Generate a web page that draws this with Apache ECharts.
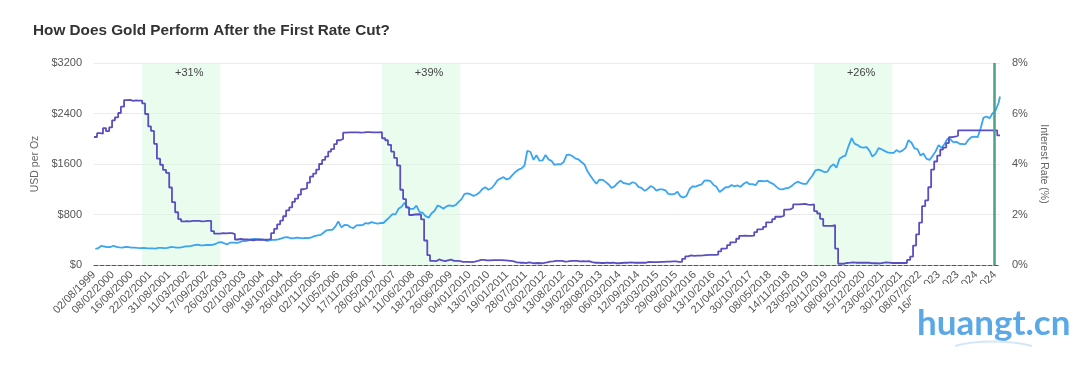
<!DOCTYPE html>
<html>
<head>
<meta charset="utf-8">
<script src="https://cdn.jsdelivr.net/npm/echarts@6/dist/echarts.min.js"></script>
<style>
html,body{margin:0;padding:0;background:#fff;}
#chart{width:1080px;height:370px;}
</style>
</head>
<body>
<div id="chart"></div>
<script>
// ---------- DATA ----------
const titleText = 'How Does Gold Perform After the First Rate Cut?';
const seriesStart = '1999-08-02';     // first business day of the series
const seriesEnd = '2024-09-30';       // last business day of the series
const labelEvery = 136;               // business days between x labels
const tickLabels = ['02/08/1999','08/02/2000','16/08/2000','22/02/2001','31/08/2001','11/03/2002','17/09/2002','26/03/2003','02/10/2003','09/04/2004','18/10/2004','26/04/2005','02/11/2005','11/05/2006','17/11/2006','28/05/2007','04/12/2007','11/06/2008','18/12/2008','26/06/2009','04/01/2010','13/07/2010','19/01/2011','28/07/2011','03/02/2012','13/08/2012','19/02/2013','28/08/2013','06/03/2014','12/09/2014','23/03/2015','29/09/2015','06/04/2016','13/10/2016','21/04/2017','30/10/2017','08/05/2018','14/11/2018','23/05/2019','29/11/2019','08/06/2020','15/12/2020','23/06/2021','30/12/2021','08/07/2022','16/01/2023','25/07/2023','31/01/2024','08/08/2024'];

// Gold, USD per oz, one value per month from Aug 1999 (mid-month level)
const goldMonthly = [
  255,268,305,293,283,
  285,305,286,280,275,286,282,275,274,270,266,272,
  266,262,263,260,272,270,267,272,285,283,276,276,
  282,296,294,303,315,321,313,310,319,317,319,333,
  357,362,341,328,356,356,351,360,379,379,390,408,
  414,405,407,403,384,392,398,400,405,421,439,442,
  424,423,434,429,422,431,425,438,456,470,477,510,
  550,555,557,611,690,596,634,633,598,586,628,630,
  631,665,655,679,667,656,665,665,713,755,806,803,
  890,922,985,910,889,890,940,839,830,775,750,816,
  859,943,924,890,929,946,934,949,997,1043,1127,1135,
  1118,1095,1113,1149,1205,1233,1193,1216,1271,1342,1370,1391,
  1356,1373,1424,1474,1510,1529,1573,1810,1790,1665,1739,1652,
  1656,1742,1674,1650,1586,1597,1594,1626,1745,1747,1722,1685,
  1672,1628,1593,1488,1414,1343,1286,1352,1349,1317,1276,1222,
  1244,1300,1336,1299,1289,1279,1311,1295,1237,1223,1175,1201,
  1251,1227,1179,1199,1199,1182,1128,1118,1125,1159,1086,1068,
  1098,1200,1245,1242,1261,1276,1337,1340,1327,1267,1238,1157,
  1192,1234,1231,1267,1246,1260,1237,1283,1314,1280,1282,1265,
  1331,1331,1325,1335,1304,1282,1238,1202,1198,1215,1221,1250,
  1292,1320,1301,1286,1284,1359,1413,1500,1511,1495,1470,1479,
  1561,1597,1540,1683,1716,1732,1880,2010,1922,1900,1866,1858,
  1867,1808,1718,1760,1850,1835,1808,1785,1775,1777,1821,1790,
  1816,1856,1975,1937,1849,1837,1733,1765,1681,1665,1725,1798,
  1898,1855,1913,2000,1991,1943,1951,1919,1917,1916,1986,2027,
  2034,2024,2159,2331,2352,2326,2398,2450,2570
];
const goldLast = 2670;

// Effective federal funds rate, %, one value per month from Aug 1999
const rateMonthly = [
  5.07,5.22,5.20,5.42,5.30,
  5.45,5.73,5.85,6.02,6.27,6.53,6.54,6.50,6.52,6.51,6.51,6.40,
  5.98,5.49,5.31,4.80,4.21,3.97,3.77,3.65,3.07,2.49,2.09,1.82,
  1.73,1.74,1.73,1.75,1.75,1.75,1.73,1.74,1.75,1.75,1.34,1.24,
  1.24,1.26,1.25,1.26,1.26,1.22,1.01,1.03,1.01,1.01,1.00,0.98,
  1.00,1.01,1.00,1.00,1.00,1.03,1.26,1.43,1.61,1.76,1.93,2.16,
  2.28,2.50,2.63,2.79,3.00,3.04,3.26,3.50,3.62,3.78,4.00,4.16,
  4.29,4.49,4.59,4.79,4.94,4.99,5.24,5.25,5.25,5.25,5.25,5.24,
  5.25,5.26,5.26,5.25,5.25,5.25,5.26,5.02,4.94,4.76,4.49,4.24,
  3.94,2.98,2.61,2.28,1.98,2.00,2.01,2.00,1.81,0.97,0.39,0.16,
  0.15,0.22,0.18,0.15,0.18,0.21,0.16,0.16,0.15,0.12,0.12,0.12,
  0.11,0.13,0.16,0.20,0.20,0.18,0.18,0.19,0.19,0.19,0.19,0.18,
  0.17,0.16,0.14,0.10,0.09,0.09,0.07,0.10,0.08,0.07,0.08,0.07,
  0.08,0.10,0.13,0.14,0.16,0.16,0.16,0.13,0.14,0.16,0.16,0.16,
  0.14,0.15,0.14,0.15,0.11,0.09,0.09,0.08,0.08,0.09,0.08,0.09,
  0.07,0.07,0.08,0.09,0.09,0.10,0.09,0.09,0.09,0.09,0.09,0.12,
  0.11,0.11,0.11,0.12,0.12,0.13,0.13,0.14,0.14,0.12,0.12,0.24,
  0.34,0.38,0.36,0.37,0.37,0.38,0.39,0.40,0.40,0.40,0.41,0.54,
  0.65,0.66,0.79,0.90,0.91,1.04,1.15,1.16,1.15,1.15,1.16,1.30,
  1.41,1.42,1.51,1.69,1.70,1.82,1.91,1.91,1.95,2.19,2.20,2.27,
  2.40,2.40,2.41,2.42,2.39,2.38,2.40,2.13,2.04,1.83,1.55,1.55,
  1.55,1.58,0.65,0.05,0.05,0.08,0.09,0.10,0.09,0.09,0.09,0.09,
  0.09,0.08,0.07,0.07,0.06,0.08,0.10,0.09,0.08,0.08,0.08,0.08,
  0.08,0.08,0.20,0.33,0.77,1.21,1.68,2.33,2.56,3.08,3.78,4.10,
  4.33,4.57,4.65,4.83,5.06,5.08,5.12,5.33,5.33,5.33,5.33,5.33,
  5.33,5.33,5.33,5.33,5.33,5.33,5.33,5.33,5.13
];

// Two-year windows after the first rate cut, and the gold gain over each
const windowStarts = ['2000-12-01','2007-08-01','2019-08-01'];
const windowEnds   = ['2003-02-01','2009-10-01','2021-10-01'];
const windowGains  = ['+31%','+39%','+26%'];
const markerDate = '2024-08-02';

// ---------- HELPERS (date -> business-day index) ----------
function ymd(s){ return s.split('-').map(Number); }
const ORIGIN = (function(){ const a = ymd(seriesStart); return Date.UTC(a[0], a[1]-1, a[2]); })();
function bday(s){
  const a = ymd(s);
  const days = Math.round((Date.UTC(a[0], a[1]-1, a[2]) - ORIGIN) / 864e5);
  const w = Math.floor(days / 7), r = days - w * 7;
  return w * 5 + Math.min(r, 5);
}
function monthStr(i, day){
  const a = ymd(seriesStart);
  const m0 = (a[1] - 1) + i;
  const y = a[0] + Math.floor(m0 / 12), m = (m0 % 12) + 1;
  return y + '-' + String(m).padStart(2,'0') + '-' + String(day).padStart(2,'0');
}

const goldData = goldMonthly.map((v, i) => [bday(monthStr(i, 15)), v]);
goldData.push([bday(seriesEnd), goldLast]);
const rateData = rateMonthly.map((v, i) => [Math.max(0, bday(monthStr(i, 1))), v]);
rateData.push([bday(seriesEnd), rateMonthly[rateMonthly.length - 1]]);

const areas = windowStarts.map((s, i) => [
  { xAxis: bday(s), label: { formatter: windowGains[i] } },
  { xAxis: bday(windowEnds[i]) }
]);

const FONT = '"Liberation Sans", Arial, sans-serif';
const chart = echarts.init(document.getElementById('chart'), null, { renderer: 'canvas' });
chart.setOption({
  animation: false,
  backgroundColor: '#ffffff',
  textStyle: { fontFamily: FONT },
  title: {
    text: titleText, left: 33, top: 23, padding: 0,
    textStyle: { fontSize: 15.3, fontWeight: 'bold', color: '#333333', fontFamily: FONT }
  },
  grid: { left: 94, right: 80, top: 63, bottom: 105, containLabel: false },
  xAxis: {
    type: 'value', min: 0, max: bday(seriesEnd), interval: labelEvery,
    splitLine: { show: false },
    axisTick: { show: false },
    axisLine: { show: true, onZero: false, lineStyle: { color: '#555555', width: 1, type: [4, 2] } },
    axisLabel: {
      rotate: 45, fontSize: 11, color: '#555555', margin: 8, fontFamily: FONT,
      showMaxLabel: false,
      formatter: function(v){
        const k = v / labelEvery;
        return (Number.isInteger(k) && k < tickLabels.length) ? tickLabels[k] : '';
      }
    }
  },
  yAxis: [
    {
      type: 'value', min: 0, max: 3200, interval: 800,
      name: 'USD per Oz', nameLocation: 'middle', nameGap: 40,
      nameTextStyle: { fontSize: 10.5, color: '#666666', fontFamily: FONT },
      axisLine: { show: false }, axisTick: { show: false },
      axisLabel: { fontSize: 11, color: '#555555', margin: 12, formatter: v => '$' + v },
      splitLine: { show: true, lineStyle: { color: '#ebebeb', width: 1 } }
    },
    {
      type: 'value', min: 0, max: 8, interval: 2, position: 'right',
      name: 'Interest Rate (%)', nameLocation: 'middle', nameGap: 28, nameRotate: -90,
      nameTextStyle: { fontSize: 10.5, color: '#666666', fontFamily: FONT },
      axisLine: { show: false }, axisTick: { show: false },
      axisLabel: { fontSize: 11, color: '#555555', margin: 12, formatter: v => v + '%' },
      splitLine: { show: false }
    }
  ],
  series: [
    {
      name: 'Gold', type: 'line', yAxisIndex: 0, data: goldData,
      showSymbol: false, symbol: 'none', z: 3,
      lineStyle: { color: '#3aa5f2', width: 1.8 },
      itemStyle: { color: '#3aa5f2' },
      markArea: {
        silent: true,
        itemStyle: { color: 'rgba(212,250,222,0.5)' },
        label: { show: true, position: 'insideTop', distance: 4, offset: [8, 0], color: '#444444', fontSize: 11, fontFamily: FONT },
        data: areas
      },
      markLine: {
        silent: true, symbol: 'none',
        label: { show: false },
        lineStyle: { color: '#4e9e8a', width: 2.5, type: 'solid' },
        data: [{ xAxis: bday(markerDate) }]
      }
    },
    {
      name: 'Interest Rate', type: 'line', yAxisIndex: 1, data: rateData,
      step: 'end', showSymbol: false, symbol: 'none', z: 4,
      lineStyle: { color: '#5a4fc2', width: 1.8 },
      itemStyle: { color: '#5a4fc2' }
    }
  ],
  graphic: [
    { type: 'rect', left: 911, top: 284, shape: { width: 169, height: 72 }, style: { fill: '#ffffff' }, z: 100 },
    { type: 'text', x: 917, y: 324, z: 101,
      style: { text: 'huangt.cn', fill: '#5aa9e6', font: 'bold 35px Lato, "Noto Sans", sans-serif', textVerticalAlign: 'middle', textAlign: 'left' } },
    { type: 'bezierCurve', z: 101,
      shape: { x1: 955, y1: 346, x2: 1032, y2: 346, cpx1: 975, cpy1: 340, cpx2: 1010, cpy2: 340 },
      style: { stroke: '#d3e7f8', lineWidth: 2, fill: null } }
  ]
});
</script>
</body>
</html>
